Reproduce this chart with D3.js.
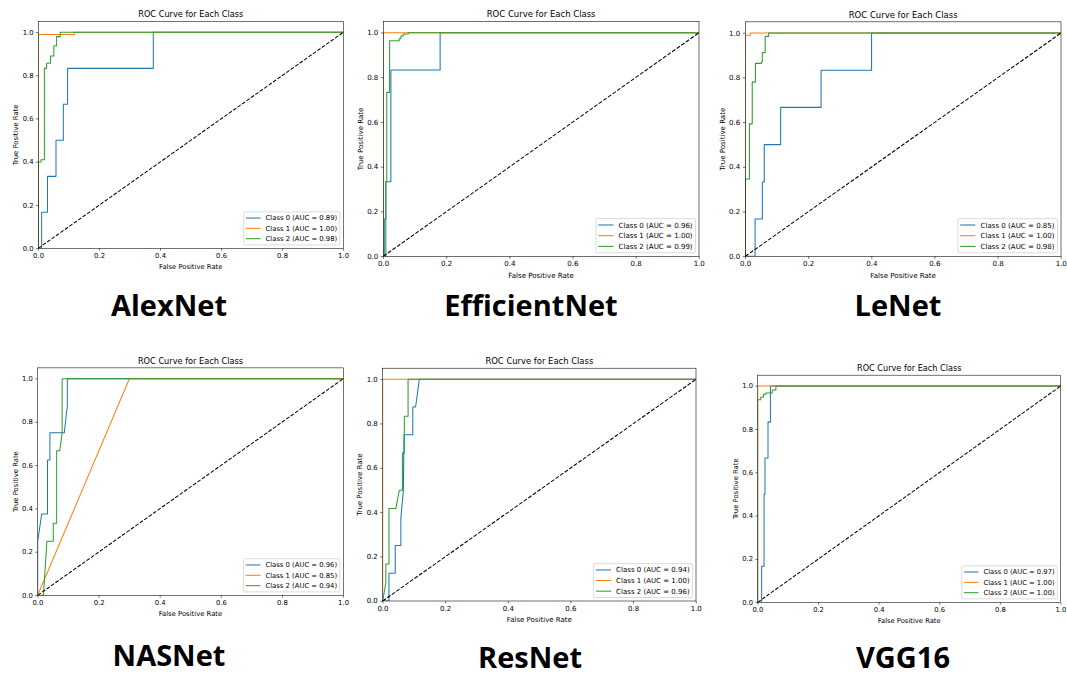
<!DOCTYPE html>
<html>
<head>
<meta charset="utf-8">
<script src="https://cdn.jsdelivr.net/npm/d3@7"></script>
<style>
  body { margin: 0; background: #fff; }
  svg { display: block; }
</style>
</head>
<body>
<svg id="fig" width="1067" height="677"></svg>
<script>
// ---- data -------------------------------------------------------------
const modelNames = ["AlexNet", "EfficientNet", "LeNet", "NASNet", "ResNet", "VGG16"];
const classNames = ["Class 0", "Class 1", "Class 2"];
const xTickValues = [0, 0.2, 0.4, 0.6, 0.8, 1.0];
const yTickValues = [0, 0.2, 0.4, 0.6, 0.8, 1.0];
const chartTitle = "ROC Curve for Each Class";
const xAxisLabel = "False Positive Rate";
const yAxisLabel = "True Positive Rate";

// AUC per class, per model
const alexnetAuc = [0.89, 1.00, 0.98];
const efficientnetAuc = [0.96, 1.00, 0.99];
const lenetAuc = [0.85, 1.00, 0.98];
const nasnetAuc = [0.96, 0.85, 0.94];
const resnetAuc = [0.94, 1.00, 0.96];
const vgg16Auc = [0.97, 1.00, 1.00];

// ROC curves as [FPR, TPR] points
const alexnetClass0 = [[0,0],[0.011,0],[0.011,0.167],[0.030,0.167],[0.030,0.333],[0.058,0.333],[0.058,0.5],[0.082,0.5],[0.082,0.667],[0.096,0.667],[0.096,0.833],[0.377,0.833],[0.377,1],[1,1]];
const alexnetClass1 = [[0,0],[0,0.99],[0.118,0.99],[0.118,1],[1,1]];
const alexnetClass2 = [[0,0],[0,0.40],[0.009,0.40],[0.009,0.41],[0.020,0.41],[0.020,0.833],[0.027,0.833],[0.027,0.857],[0.040,0.857],[0.040,0.89],[0.051,0.89],[0.051,0.938],[0.060,0.938],[0.060,0.98],[0.072,0.98],[0.072,1],[1,1]];

const efficientnetClass0 = [[0,0],[0.003,0],[0.003,0.167],[0.008,0.167],[0.008,0.333],[0.024,0.333],[0.024,0.833],[0.18,0.833],[0.18,1],[1,1]];
const efficientnetClass1 = [[0,0],[0,1],[1,1]];
const efficientnetClass2 = [[0,0],[0.008,0],[0.008,0.333],[0.011,0.333],[0.011,0.733],[0.020,0.733],[0.020,0.964],[0.050,0.964],[0.050,0.973],[0.056,0.973],[0.056,0.985],[0.063,0.985],[0.063,0.994],[0.079,0.994],[0.079,1],[1,1]];

const lenetClass0 = [[0,0],[0.031,0],[0.031,0.167],[0.054,0.167],[0.054,0.333],[0.060,0.333],[0.060,0.5],[0.112,0.5],[0.112,0.667],[0.24,0.667],[0.24,0.833],[0.40,0.833],[0.40,1],[1,1]];
const lenetClass1 = [[0,0],[0,0.99],[0.016,0.99],[0.016,1],[1,1]];
const lenetClass2 = [[0,0],[0,0.346],[0.013,0.346],[0.013,0.593],[0.022,0.593],[0.022,0.78],[0.032,0.78],[0.032,0.864],[0.051,0.864],[0.051,0.87],[0.054,0.87],[0.054,0.913],[0.063,0.913],[0.063,0.985],[0.074,0.985],[0.074,1],[1,1]];

const nasnetClass0 = [[0,0],[0,0.25],[0.013,0.375],[0.032,0.375],[0.032,0.625],[0.040,0.625],[0.040,0.75],[0.087,0.75],[0.097,0.875],[0.097,1],[1,1]];
const nasnetClass1 = [[0,0],[0.30,1],[1,1]];
const nasnetClass2 = [[0,0],[0.019,0],[0.030,0.25],[0.051,0.25],[0.051,0.333],[0.062,0.333],[0.062,0.667],[0.072,0.667],[0.080,0.75],[0.080,1],[1,1]];

const resnetClass0 = [[0,0],[0.020,0],[0.020,0.125],[0.040,0.125],[0.040,0.25],[0.058,0.25],[0.058,0.375],[0.066,0.5],[0.068,0.75],[0.096,0.75],[0.096,0.875],[0.105,0.875],[0.117,1],[1,1]];
const resnetClass1 = [[0,0],[0,1],[1,1]];
const resnetClass2 = [[0,0],[0.010,0.083],[0.010,0.167],[0.020,0.167],[0.020,0.417],[0.042,0.417],[0.053,0.5],[0.063,0.5],[0.063,0.667],[0.069,0.667],[0.069,0.833],[0.081,0.833],[0.081,1],[1,1]];

const vgg16Class0 = [[0,0],[0.013,0],[0.013,0.167],[0.021,0.167],[0.021,0.5],[0.024,0.5],[0.024,0.667],[0.034,0.667],[0.034,0.833],[0.042,0.833],[0.042,1],[1,1]];
const vgg16Class1 = [[0,0],[0,1],[1,1]];
const vgg16Class2 = [[0,0],[0,0.936],[0.010,0.936],[0.010,0.948],[0.019,0.948],[0.019,0.962],[0.027,0.962],[0.027,0.968],[0.048,0.968],[0.048,0.981],[0.060,0.981],[0.060,1],[1,1]];

const curvesByModel = [
  [alexnetClass0, alexnetClass1, alexnetClass2],
  [efficientnetClass0, efficientnetClass1, efficientnetClass2],
  [lenetClass0, lenetClass1, lenetClass2],
  [nasnetClass0, nasnetClass1, nasnetClass2],
  [resnetClass0, resnetClass1, resnetClass2],
  [vgg16Class0, vgg16Class1, vgg16Class2]
];
const aucByModel = [alexnetAuc, efficientnetAuc, lenetAuc, nasnetAuc, resnetAuc, vgg16Auc];

// ---- layout -----------------------------------------------------------
// pixel positions of FPR 0/1 and TPR 0/1 for each panel, and of its caption
const panelFrames = [
  { x0: 38.3,  x1: 343.3,  yZero: 248.3, yOne: 32.3,  capX: 169, capY: 316 },
  { x0: 383.3, x1: 699.0,  yZero: 256.3, yOne: 32.7,  capX: 531, capY: 316 },
  { x0: 745.3, x1: 1061.0, yZero: 256.3, yOne: 33.0,  capX: 898, capY: 316 },
  { x0: 37.7,  x1: 343.3,  yZero: 595.3, yOne: 378.7, capX: 169, capY: 666 },
  { x0: 382.7, x1: 696.0,  yZero: 601.0, yOne: 379.3, capX: 530, capY: 668 },
  { x0: 757.7, x1: 1060.7, yZero: 602.3, yOne: 386.0, capX: 903, capY: 668 }
];

const colors = ["#1f77b4", "#ff7f0e", "#2ca02c"];
const PT = 100 / 72;               // pixels per point in figure space
const FS = 10 * PT;                // base font size
const AX = { left: 100, right: 720, top: 72, bottom: 534 };
const FONT = "'DejaVu Sans', sans-serif";

const svg = d3.select("#fig");
svg.append("rect").attr("width", 1067).attr("height", 677).attr("fill", "#fff");

panelFrames.forEach((p, i) => {
  const sx = (p.x1 - p.x0) / (AX.right - AX.left);
  const sy = (p.yZero - p.yOne) * 1.05 / (AX.bottom - AX.top);
  const yTop = p.yZero - 1.05 * (p.yZero - p.yOne);
  const g = svg.append("g")
    .attr("transform", `translate(${p.x0 - AX.left * sx},${yTop - AX.top * sy}) scale(${sx},${sy})`);

  const x = d3.scaleLinear().domain([0, 1]).range([AX.left, AX.right]);
  const y = d3.scaleLinear().domain([0, 1.05]).range([AX.bottom, AX.top]);

  const clipId = "clip" + i;
  g.append("clipPath").attr("id", clipId)
    .append("rect")
    .attr("x", AX.left).attr("y", AX.top)
    .attr("width", AX.right - AX.left).attr("height", AX.bottom - AX.top);

  const line = d3.line().x(d => x(d[0])).y(d => y(d[1]));
  const plot = g.append("g").attr("clip-path", `url(#${clipId})`);

  curvesByModel[i].forEach((pts, c) => {
    plot.append("path")
      .attr("d", line(pts))
      .attr("fill", "none")
      .attr("stroke", colors[c])
      .attr("stroke-width", 1.5 * PT)
      .attr("stroke-linejoin", "round")
      .attr("stroke-linecap", "square");
  });

  // chance diagonal
  plot.append("path")
    .attr("d", line([[0, 0], [1, 1]]))
    .attr("fill", "none")
    .attr("stroke", "#000")
    .attr("stroke-width", 1.5 * PT)
    .attr("stroke-dasharray", `${3.7 * 1.5 * PT},${1.6 * 1.5 * PT}`);

  // axes
  const xAxis = d3.axisBottom(x).tickValues(xTickValues).tickFormat(d3.format(".1f"))
    .tickSize(3.5 * PT).tickPadding(3.5 * PT);
  const yAxis = d3.axisLeft(y).tickValues(yTickValues).tickFormat(d3.format(".1f"))
    .tickSize(3.5 * PT).tickPadding(3.5 * PT);

  const gx = g.append("g").attr("transform", `translate(0,${AX.bottom})`).call(xAxis);
  const gy = g.append("g").attr("transform", `translate(${AX.left},0)`).call(yAxis);
  [gx, gy].forEach(a => {
    a.select(".domain").remove();
    a.selectAll(".tick line").attr("stroke", "#000").attr("stroke-width", 0.8 * PT);
    a.selectAll(".tick text").attr("fill", "#000")
      .style("font-family", FONT).style("font-size", FS + "px");
  });

  // frame
  g.append("rect")
    .attr("x", AX.left).attr("y", AX.top)
    .attr("width", AX.right - AX.left).attr("height", AX.bottom - AX.top)
    .attr("fill", "none").attr("stroke", "#000").attr("stroke-width", 0.8 * PT);

  // title and axis labels
  g.append("text").text(chartTitle)
    .attr("x", (AX.left + AX.right) / 2).attr("y", AX.top - 6 * PT)
    .attr("text-anchor", "middle").attr("fill", "#000")
    .style("font-family", FONT).style("font-size", 1.2 * FS + "px");
  g.append("text").text(xAxisLabel)
    .attr("x", (AX.left + AX.right) / 2).attr("y", 576)
    .attr("text-anchor", "middle").attr("fill", "#000")
    .style("font-family", FONT).style("font-size", FS + "px");
  g.append("text").text(yAxisLabel)
    .attr("transform", `translate(59.5,${(AX.top + AX.bottom) / 2}) rotate(-90)`)
    .attr("text-anchor", "middle").attr("fill", "#000")
    .style("font-family", FONT).style("font-size", FS + "px");

  // legend (lower right)
  const labels = classNames.map((n, c) => `${n} (AUC = ${aucByModel[i][c].toFixed(2)})`);
  const pad = 0.4 * FS, rowH = 1.015 * FS, gap = 0.5 * FS;
  const handleLen = 2.0 * FS, handlePad = 0.8 * FS, axPad = 0.5 * FS;
  const lg = g.append("g");
  const frame = lg.append("rect");
  const texts = labels.map(t => lg.append("text").text(t).attr("fill", "#000")
    .style("font-family", FONT).style("font-size", FS + "px"));
  const textW = d3.max(texts, t => t.node().getComputedTextLength());
  const lgW = 2 * pad + handleLen + handlePad + textW;
  const lgH = 2 * pad + 3 * rowH + 2 * gap;
  const lgRight = AX.right - axPad, lgBottom = AX.bottom - axPad;
  const lgLeft = lgRight - lgW, lgTop = lgBottom - lgH;
  frame.attr("x", lgLeft).attr("y", lgTop).attr("width", lgW).attr("height", lgH)
    .attr("rx", 0.2 * FS).attr("ry", 0.2 * FS)
    .attr("fill", "#fff").attr("fill-opacity", 0.8)
    .attr("stroke", "#cccccc").attr("stroke-width", 1.0 * PT);
  texts.forEach((t, c) => {
    const cy = lgTop + pad + rowH / 2 + c * (rowH + gap);
    lg.append("line")
      .attr("x1", lgLeft + pad).attr("x2", lgLeft + pad + handleLen)
      .attr("y1", cy).attr("y2", cy)
      .attr("stroke", colors[c]).attr("stroke-width", 1.5 * PT)
      .attr("stroke-linecap", "square");
    t.attr("x", lgLeft + pad + handleLen + handlePad).attr("y", cy + 0.36 * FS);
  });

  // model caption under the panel
  svg.append("text").text(modelNames[i])
    .attr("x", p.capX).attr("y", p.capY)
    .attr("text-anchor", "middle").attr("fill", "#000")
    .style("font-family", "'Open Sans', 'DejaVu Sans', sans-serif")
    .style("font-weight", 700).style("font-size", "29px");
});
</script>
</body>
</html>
